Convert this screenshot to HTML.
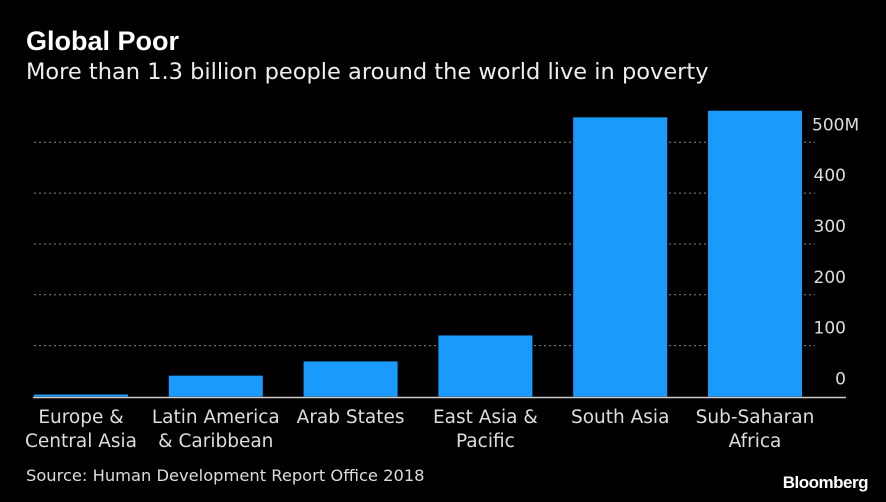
<!DOCTYPE html>
<html><head><meta charset="utf-8"><style>
html,body{margin:0;padding:0;background:#000;width:886px;height:502px;overflow:hidden;font-family:"DejaVu Sans","Liberation Sans",sans-serif;color:#fff}
#title{position:absolute;left:26px;top:26px;font-size:27px;font-weight:bold;font-family:"Liberation Sans",sans-serif}
#sub{position:absolute;left:26px;top:59px;font-size:22.5px;color:#eee}
#src{position:absolute;left:26px;top:466px;font-size:16.3px;color:#ddd}
#logo{position:absolute;right:18px;top:473px;font-size:17px;font-weight:bold;font-family:"Liberation Sans",sans-serif;letter-spacing:-0.5px}
svg{position:absolute;left:0;top:0}
</style></head><body>
<div id="title">Global Poor</div>
<div id="sub">More than 1.3 billion people around the world live in poverty</div>
<svg id="chart" width="886" height="502"></svg>
<div id="src">Source: Human Development Report Office 2018</div>
<div id="logo">Bloomberg</div>
<script>
const categories=[["Europe &","Central Asia"],["Latin America","& Caribbean"],["Arab States"],["East Asia &","Pacific"],["South Asia"],["Sub-Saharan","Africa"]];
const values=[4,41,69,120,549,562];
const ticks=[0,100,200,300,400,500];
const tickLabels=["0","100","200","300","400","500M"];
const svg=document.getElementById('chart');
const NS='http://www.w3.org/2000/svg';
const y0=396.5, pxPer=0.5085;
const y=v=>y0-v*pxPer;
const x=i=>34+i*134.8;
const bw=94;
function mk(t,a){const e=document.createElementNS(NS,t);for(const k in a)e.setAttribute(k,a[k]);svg.appendChild(e);return e;}
ticks.forEach((t,i)=>{
  if(t>0){const g=mk('line',{x1:34,x2:815,y1:y(t),y2:y(t),stroke:'#888','stroke-dasharray':'2,3','stroke-width':1});
  
  }
  const last=i===ticks.length-1;
  const l=mk('text',{x:last?812:846,y:y(t)-12,'text-anchor':last?'start':'end','font-size':17,fill:'#ddd'});
  l.textContent=tickLabels[i];
  
  
});
values.forEach((v,i)=>{
  const r=mk('rect',{x:x(i),y:y(v),width:bw,height:Math.max(y0-y(v),0),fill:'#1a9bfc'});
  
  
  categories[i].forEach((ln,j)=>{
    const t=mk('text',{x:x(i)+bw/2,y:423+j*24,'text-anchor':'middle','font-size':18.5,fill:'#ddd'});
    t.textContent=ln;
    
    
  });
});
const b=mk('line',{x1:33,x2:846,y1:y0+1,y2:y0+1,stroke:'#ccc','stroke-width':1.5});


</script>
</body></html>
